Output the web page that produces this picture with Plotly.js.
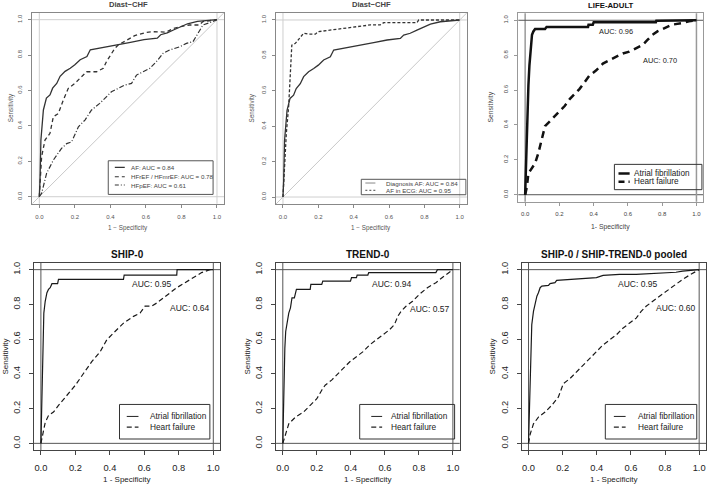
<!DOCTYPE html>
<html>
<head>
<meta charset="utf-8">
<script src="https://cdn.plot.ly/plotly-3.0.1.min.js"></script>
<style>html,body{margin:0;padding:0;background:#fff}#chart{width:709px;height:485px}</style>
</head>
<body>
<div id="chart"></div>
<script>
// ROC curves (x = 1 - specificity, y = sensitivity)
const afFpr = [0, 0.004, 0.009, 0.023, 0.04, 0.06, 0.075, 0.098, 0.117, 0.145, 0.174, 0.2, 0.23, 0.268, 0.287, 0.343, 0.4, 0.457, 0.513, 0.589, 0.664, 0.683, 0.72, 0.758, 0.796, 0.834, 0.89, 1];
const afTpr = [0, 0.094, 0.32, 0.49, 0.557, 0.575, 0.613, 0.64, 0.68, 0.708, 0.726, 0.745, 0.774, 0.792, 0.83, 0.84, 0.85, 0.858, 0.872, 0.887, 0.896, 0.915, 0.925, 0.943, 0.962, 0.977, 0.99, 1];

const hfrefFpr = [0, 0.013, 0.032, 0.06, 0.079, 0.107, 0.135, 0.163, 0.2, 0.238, 0.266, 0.322, 0.36, 0.378, 0.406, 0.425, 0.444, 0.49, 0.537, 0.603, 0.64, 0.715, 0.753, 0.809, 0.846, 0.9, 0.921, 1];
const hfrefTpr = [0, 0.226, 0.32, 0.358, 0.452, 0.47, 0.546, 0.612, 0.64, 0.678, 0.706, 0.706, 0.725, 0.763, 0.81, 0.838, 0.857, 0.885, 0.91, 0.928, 0.932, 0.93, 0.95, 0.964, 0.97, 0.97, 0.989, 1];

const hfpefFpr = [0, 0.013, 0.041, 0.079, 0.125, 0.154, 0.182, 0.2, 0.22, 0.257, 0.294, 0.34, 0.378, 0.406, 0.444, 0.481, 0.519, 0.547, 0.584, 0.622, 0.659, 0.697, 0.734, 0.79, 0.828, 0.865, 0.893, 0.921, 0.959, 1];
const hfpefTpr = [0, 0.019, 0.132, 0.207, 0.273, 0.3, 0.31, 0.348, 0.395, 0.433, 0.49, 0.527, 0.565, 0.593, 0.612, 0.631, 0.64, 0.687, 0.706, 0.725, 0.763, 0.81, 0.829, 0.847, 0.866, 0.876, 0.923, 0.97, 0.983, 1];

const ecgFpr = [0, 0.009, 0.019, 0.032, 0.04, 0.05, 0.07, 0.098, 0.117, 0.145, 0.183, 0.2, 0.25, 0.306, 0.362, 0.419, 0.494, 0.55, 0.57, 0.758, 0.768, 1];
const ecgTpr = [0, 0.21, 0.36, 0.51, 0.64, 0.858, 0.868, 0.906, 0.925, 0.92, 0.92, 0.934, 0.94, 0.947, 0.953, 0.962, 0.972, 0.972, 0.985, 0.985, 1, 1];

const lifeAfFpr = [0, 0.006, 0.0135, 0.019, 0.025, 0.033, 0.04, 0.048, 0.058, 0.116, 0.125, 0.367, 0.37, 0.395, 0.4, 0.763, 0.766, 1];
const lifeAfTpr = [0, 0.238, 0.432, 0.626, 0.742, 0.858, 0.917, 0.936, 0.95, 0.95, 0.961, 0.961, 0.975, 0.975, 0.988, 0.988, 0.998, 1];
const lifeHfFpr = [0, 0.01, 0.019, 0.039, 0.058, 0.077, 0.097, 0.116, 0.145, 0.174, 0.2, 0.232, 0.26, 0.29, 0.318, 0.347, 0.376, 0.415, 0.454, 0.492, 0.53, 0.57, 0.608, 0.647, 0.685, 0.714, 0.743, 0.772, 0.81, 0.859, 0.917, 0.956, 1];
const lifeHfTpr = [0, 0.045, 0.122, 0.151, 0.18, 0.238, 0.316, 0.393, 0.422, 0.45, 0.48, 0.51, 0.548, 0.577, 0.607, 0.645, 0.684, 0.713, 0.752, 0.771, 0.79, 0.81, 0.82, 0.839, 0.858, 0.887, 0.917, 0.936, 0.955, 0.975, 0.984, 0.994, 1];

const shipAfFpr = [0, 0.004, 0.008, 0.012, 0.017, 0.025, 0.035, 0.044, 0.054, 0.064, 0.097, 0.102, 0.479, 0.483, 0.788, 0.79, 1];
const shipAfTpr = [0, 0.18, 0.412, 0.625, 0.75, 0.818, 0.867, 0.886, 0.896, 0.919, 0.919, 0.944, 0.944, 0.969, 0.969, 1, 1];
const shipHfFpr = [0, 0.012, 0.025, 0.044, 0.073, 0.102, 0.15, 0.2, 0.247, 0.295, 0.344, 0.382, 0.43, 0.479, 0.537, 0.575, 0.604, 0.643, 0.672, 0.71, 0.749, 0.788, 0.836, 0.884, 0.932, 0.98, 1];
const shipHfTpr = [0, 0.064, 0.12, 0.16, 0.18, 0.218, 0.277, 0.335, 0.402, 0.47, 0.528, 0.596, 0.644, 0.692, 0.731, 0.75, 0.79, 0.79, 0.808, 0.838, 0.867, 0.896, 0.925, 0.954, 0.983, 1, 1];

const trendAfFpr = [0, 0.004, 0.008, 0.012, 0.017, 0.025, 0.035, 0.045, 0.054, 0.068, 0.08, 0.161, 0.165, 0.229, 0.235, 0.398, 0.404, 0.433, 0.437, 0.5, 0.505, 0.9, 0.909, 1];
const trendAfTpr = [0, 0.219, 0.393, 0.547, 0.644, 0.702, 0.75, 0.78, 0.838, 0.838, 0.886, 0.886, 0.915, 0.915, 0.934, 0.934, 0.954, 0.954, 0.969, 0.969, 0.983, 0.983, 1, 1];
const trendHfFpr = [0, 0.016, 0.035, 0.074, 0.122, 0.161, 0.2, 0.229, 0.249, 0.287, 0.317, 0.355, 0.394, 0.433, 0.472, 0.511, 0.55, 0.588, 0.627, 0.656, 0.676, 0.695, 0.724, 0.763, 0.802, 0.85, 0.9, 0.948, 1];
const trendHfTpr = [0, 0.054, 0.112, 0.151, 0.18, 0.219, 0.257, 0.306, 0.335, 0.364, 0.393, 0.431, 0.47, 0.499, 0.528, 0.567, 0.596, 0.625, 0.654, 0.683, 0.731, 0.76, 0.789, 0.818, 0.857, 0.896, 0.925, 0.963, 1];

const pooledAfFpr = [0, 0.004, 0.008, 0.0136, 0.019, 0.029, 0.039, 0.049, 0.058, 0.068, 0.078, 0.117, 0.126, 0.155, 0.165, 0.243, 0.34, 0.398, 0.437, 0.534, 0.631, 0.728, 0.864, 0.903, 1];
const pooledAfTpr = [0, 0.18, 0.373, 0.567, 0.683, 0.76, 0.808, 0.847, 0.867, 0.896, 0.905, 0.909, 0.92, 0.925, 0.938, 0.944, 0.95, 0.954, 0.967, 0.973, 0.973, 0.977, 0.985, 0.992, 1];
const pooledHfFpr = [0, 0.01, 0.029, 0.058, 0.097, 0.136, 0.175, 0.204, 0.243, 0.282, 0.32, 0.359, 0.398, 0.437, 0.476, 0.515, 0.553, 0.592, 0.631, 0.66, 0.689, 0.728, 0.767, 0.806, 0.845, 0.903, 0.951, 1];
const pooledHfTpr = [0, 0.054, 0.112, 0.151, 0.18, 0.219, 0.267, 0.344, 0.373, 0.412, 0.451, 0.489, 0.528, 0.567, 0.596, 0.625, 0.663, 0.692, 0.721, 0.76, 0.789, 0.818, 0.847, 0.876, 0.905, 0.944, 0.973, 1];

const panelTitles = ['Diast\u2212CHF', 'Diast\u2212CHF', 'LIFE-ADULT', 'SHIP-0', 'TREND-0', 'SHIP-0 / SHIP-TREND-0 pooled'];
const xLabels = ['1 \u2212 Specificity', '1 \u2212 Specificity', '1- Specificity', '1 - Specificity', '1 - Specificity', '1 - Specificity'];
const aucLabels = [null, null, ['AUC: 0.96', 'AUC: 0.70'], ['AUC: 0.95', 'AUC: 0.64'], ['AUC: 0.94', 'AUC: 0.57'], ['AUC: 0.95', 'AUC: 0.60']];
const tickVals = [0, 0.2, 0.4, 0.6, 0.8, 1];
const tickText = ['0.0', '0.2', '0.4', '0.6', '0.8', '1.0'];

const FONT = 'Liberation Sans, Arial, sans-serif';
const W = 709, H = 485;
const px = v => v / W;
const py = v => 1 - v / H;

// panel boxes in pixels: [left, right, top, bottom]
const boxes = [
  [32.2, 224.1, 12.6, 203.8],
  [275.9, 466.8, 12.9, 204.1],
  [518.3, 703.3, 13.3, 201.7],
  [34, 220.2, 262.7, 450.3],
  [276, 459.7, 262.7, 450.3],
  [521.7, 706, 262.7, 450.3]
];

// look of each panel
const looks = [
  {txt: '#555', box: '#888', refV: '#cfcfcf', refH: '#cfcfcf', refVW: 1, tick: 6, lab: 6.3, title: 7.6, tl: 3, xso: 4, yso: 4, diag: true, titleY: 4.5, xlabY: 228, ylabX: 11},
  {txt: '#555', box: '#888', refV: '#cfcfcf', refH: '#cfcfcf', refVW: 1, tick: 6, lab: 6.3, title: 7.6, tl: 3, xso: 4, yso: 4, diag: true, titleY: 4.5, xlabY: 228, ylabX: 252},
  {txt: '#444', box: '#999', refV: '#999', refH: '#555', refVW: 1.5, tick: 6, lab: 6.8, title: 7.8, tl: 3, xso: 3, yso: 4, diag: false, titleY: 5.5, xlabY: 227, ylabX: 490},
  {txt: '#222', box: '#444', refV: '#555', refH: '#555', refVW: 1, tick: 9.3, lab: 8, title: 10, tl: 4, xso: 5, yso: 5, diag: false, titleY: 254, xlabY: 479, ylabX: 5},
  {txt: '#222', box: '#444', refV: '#555', refH: '#555', refVW: 1, tick: 9.3, lab: 8, title: 10, tl: 4, xso: 5, yso: 5, diag: false, titleY: 254, xlabY: 479, ylabX: 247},
  {txt: '#222', box: '#444', refV: '#555', refH: '#555', refVW: 1, tick: 9.3, lab: 8, title: 10, tl: 4, xso: 5, yso: 5, diag: false, titleY: 254, xlabY: 479, ylabX: 492}
];

const curves = [
  {p: 0, x: afFpr, y: afTpr, color: '#333', width: 1.3, dash: 'solid'},
  {p: 0, x: hfrefFpr, y: hfrefTpr, color: '#333', width: 1.3, dash: '4px,3px'},
  {p: 0, x: hfpefFpr, y: hfpefTpr, color: '#333', width: 1.2, dash: '5px,2px,1px,2px'},
  {p: 1, x: afFpr, y: afTpr, color: '#333', width: 1.3, dash: 'solid'},
  {p: 1, x: ecgFpr, y: ecgTpr, color: '#333', width: 1.3, dash: '3px,2px'},
  {p: 2, x: lifeAfFpr, y: lifeAfTpr, color: '#111', width: 2.5, dash: 'solid'},
  {p: 2, x: lifeHfFpr, y: lifeHfTpr, color: '#111', width: 2.5, dash: '7px,5px'},
  {p: 3, x: shipAfFpr, y: shipAfTpr, color: '#1a1a1a', width: 1.2, dash: 'solid'},
  {p: 3, x: shipHfFpr, y: shipHfTpr, color: '#1a1a1a', width: 1.2, dash: '5px,3px'},
  {p: 4, x: trendAfFpr, y: trendAfTpr, color: '#1a1a1a', width: 1.2, dash: 'solid'},
  {p: 4, x: trendHfFpr, y: trendHfTpr, color: '#1a1a1a', width: 1.2, dash: '5px,3px'},
  {p: 5, x: pooledAfFpr, y: pooledAfTpr, color: '#1a1a1a', width: 1.2, dash: 'solid'},
  {p: 5, x: pooledHfFpr, y: pooledHfTpr, color: '#1a1a1a', width: 1.2, dash: '5px,3px'}
];

// legends: box [x0,x1,y0,y1] in data units, sample line x-range, text x, rows
const legends = [
  {p: 0, box: [0.388, 0.978, 0.013, 0.203], lx: [0.425, 0.481], tx: 0.506, size: 6.2, color: '#444',
   rows: [{t: 'AF: AUC = 0.84', y: 0.166, dash: 'solid', c: '#333', w: 1.1},
          {t: 'HFrEF / HFmrEF: AUC = 0.78', y: 0.113, dash: '4px,3px', c: '#333', w: 1.1},
          {t: 'HFpEF: AUC = 0.61', y: 0.066, dash: '4px,2px,1px,2px', c: '#333', w: 1.1}]},
  {p: 1, box: [0.443, 1.035, 0.013, 0.1], lx: [0.466, 0.523], tx: 0.57, size: 6.2, color: '#444',
   rows: [{t: 'Diagnosis AF: AUC = 0.84', y: 0.079, dash: 'solid', c: '#888', w: 1},
          {t: 'AF in ECG: AUC = 0.95', y: 0.038, dash: '2px,2px', c: '#444', w: 1}]},
  {p: 2, box: [0.521, 1.032, 0.029, 0.174], lx: [0.545, 0.61], tx: 0.625, size: 8.2, color: '#222',
   rows: [{t: 'Atrial fibrillation', y: 0.122, dash: 'solid', c: '#111', w: 2.5},
          {t: 'Heart failure', y: 0.074, dash: '6px,4px', c: '#111', w: 2.5}]},
  {p: 3, box: [0.456, 0.98, 0.025, 0.224], lx: [0.498, 0.566], tx: 0.624, size: 8.3, color: '#222',
   rows: [{t: 'Atrial fibrillation', y: 0.155, dash: 'solid', c: '#222', w: 1},
          {t: 'Heart failure', y: 0.093, dash: '5px,3px', c: '#222', w: 1.2}]},
  {p: 4, box: [0.452, 1.01, 0.025, 0.224], lx: [0.52, 0.584], tx: 0.627, size: 8.3, color: '#222',
   rows: [{t: 'Atrial fibrillation', y: 0.155, dash: 'solid', c: '#222', w: 1},
          {t: 'Heart failure', y: 0.093, dash: '5px,3px', c: '#222', w: 1.2}]},
  {p: 5, box: [0.45, 0.986, 0.025, 0.224], lx: [0.5, 0.569], tx: 0.627, size: 8.3, color: '#222',
   rows: [{t: 'Atrial fibrillation', y: 0.155, dash: 'solid', c: '#222', w: 1},
          {t: 'Heart failure', y: 0.093, dash: '5px,3px', c: '#222', w: 1.2}]}
];

// AUC text spots (data units)
const aucPos = [null, null, [[0.53, 0.936], [0.79, 0.771]], [[0.643, 0.919], [0.861, 0.78]], [[0.637, 0.915], [0.86, 0.776]], [[0.64, 0.919], [0.864, 0.78]]];

const data = curves.map(c => ({
  x: c.x, y: c.y, type: 'scatter', mode: 'lines',
  xaxis: 'x' + (c.p + 1), yaxis: 'y' + (c.p + 1),
  line: {color: c.color, width: c.width, dash: c.dash},
  hoverinfo: 'skip', showlegend: false
}));

const layout = {
  width: W, height: H,
  margin: {l: 0, r: 0, t: 0, b: 0},
  paper_bgcolor: '#fff', plot_bgcolor: '#fff',
  showlegend: false,
  shapes: [], annotations: []
};

boxes.forEach((b, i) => {
  const n = i + 1, lk = looks[i];
  const f = {family: FONT, size: lk.tick, color: lk.txt};
  const common = {
    range: [-0.04, 1.04], tickvals: tickVals, ticktext: tickText,
    ticks: 'outside', ticklen: lk.tl, tickcolor: lk.box, tickwidth: 1,
    showline: true, linecolor: lk.box, linewidth: 1, mirror: true,
    showgrid: false, zeroline: false, tickfont: f, fixedrange: true
  };
  layout['xaxis' + n] = Object.assign({}, common, {domain: [px(b[0]), px(b[1])], anchor: 'y' + n, ticklabelstandoff: lk.xso});
  layout['yaxis' + n] = Object.assign({}, common, {domain: [py(b[3]), py(b[2])], anchor: 'x' + n, tickangle: -90, ticklabelstandoff: lk.yso});

  // axis labels
  layout.annotations.push({xref: 'paper', yref: 'paper', x: px((b[0] + b[1]) / 2), y: py(lk.xlabY),
    text: xLabels[i], showarrow: false, xanchor: 'center', yanchor: 'middle', font: {family: FONT, size: lk.lab, color: lk.txt}});
  layout.annotations.push({xref: 'paper', yref: 'paper', x: px(lk.ylabX), y: py((b[2] + b[3]) / 2),
    text: 'Sensitivity', textangle: -90, showarrow: false, xanchor: 'center', yanchor: 'middle', font: {family: FONT, size: lk.lab, color: lk.txt}});
  // title
  layout.annotations.push({xref: 'paper', yref: 'paper', x: px((b[0] + b[1]) / 2), y: py(lk.titleY),
    text: '<b>' + panelTitles[i] + '</b>', showarrow: false, xanchor: 'center', yanchor: 'middle', font: {family: FONT, size: lk.title, color: i < 2 ? '#444' : '#111'}});

  // reference lines at 0 and 1
  [0, 1].forEach(v => {
    layout.shapes.push({type: 'line', xref: 'x' + n, yref: 'y' + n + ' domain', x0: v, x1: v, y0: 0, y1: 1, line: {color: lk.refV, width: lk.refVW}, layer: 'below'});
    layout.shapes.push({type: 'line', xref: 'x' + n + ' domain', yref: 'y' + n, x0: 0, x1: 1, y0: v, y1: v, line: {color: lk.refH, width: 1}, layer: 'below'});
  });
  if (lk.diag) {
    layout.shapes.push({type: 'line', xref: 'x' + n, yref: 'y' + n, x0: -0.04, y0: -0.04, x1: 1.04, y1: 1.04, line: {color: '#c8c8c8', width: 1}, layer: 'below'});
  }

  if (aucLabels[i]) {
    aucLabels[i].forEach((t, k) => {
      layout.annotations.push({xref: 'x' + n, yref: 'y' + n, x: aucPos[i][k][0], y: aucPos[i][k][1], text: t, showarrow: false,
        xanchor: 'center', yanchor: 'middle', font: {family: FONT, size: i === 2 ? 7.4 : 8.5, color: '#222'}});
    });
  }
});

legends.forEach(lg => {
  const n = lg.p + 1;
  layout.shapes.push({type: 'rect', xref: 'x' + n, yref: 'y' + n, x0: lg.box[0], x1: lg.box[1], y0: lg.box[2], y1: lg.box[3],
    line: {color: lg.p < 2 ? '#555' : '#333', width: 1}, fillcolor: 'rgba(255,255,255,0)'});
  lg.rows.forEach(r => {
    layout.shapes.push({type: 'line', xref: 'x' + n, yref: 'y' + n, x0: lg.lx[0], x1: lg.lx[1], y0: r.y, y1: r.y, line: {color: r.c, width: r.w, dash: r.dash}});
    layout.annotations.push({xref: 'x' + n, yref: 'y' + n, x: lg.tx, y: r.y, text: r.t, showarrow: false,
      xanchor: 'left', yanchor: 'middle', font: {family: FONT, size: lg.size, color: lg.color}});
  });
});

Plotly.newPlot('chart', data, layout, {displayModeBar: false, staticPlot: true});
</script>
</body>
</html>
